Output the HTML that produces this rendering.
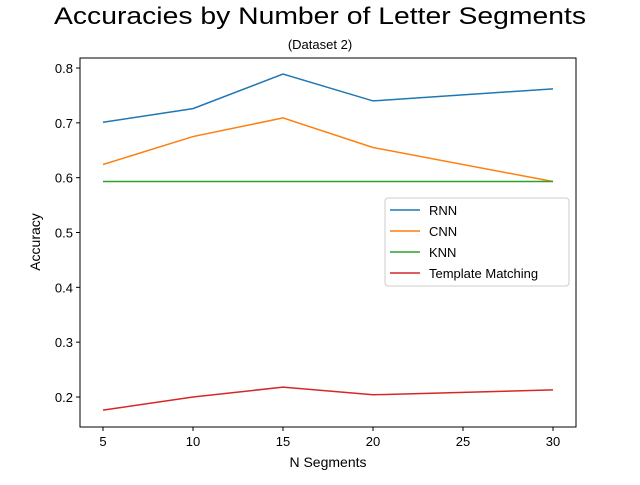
<!DOCTYPE html>
<html><head><meta charset="utf-8"><style>
body{margin:0;background:#fff;}
svg text{font-family:"Liberation Sans","DejaVu Sans",sans-serif;fill:#000;}
</style></head><body>
<svg width="640" height="480" xmlns="http://www.w3.org/2000/svg">
<rect width="640" height="480" fill="#fff"/>
<text x="320" y="24" font-size="24" text-anchor="middle" textLength="532" lengthAdjust="spacingAndGlyphs">Accuracies by Number of Letter Segments</text>
<text x="320" y="49" font-size="13" text-anchor="middle">(Dataset 2)</text>
<g id="plot"></g>
<rect x="80" y="58" width="496" height="369" fill="none" stroke="#000" stroke-width="1"/>
<text x="328" y="467" font-size="14" text-anchor="middle">N Segments</text>
<text transform="translate(40,242) rotate(-90)" font-size="14" text-anchor="middle">Accuracy</text>
<g>
<rect x="385" y="198" width="184" height="88" rx="3" fill="#fff" stroke="#ccc"/>
<g id="legend"></g>
</g>
</svg>
<script>
const xs=[5,10,15,20,30];
const rnn=[0.701,0.726,0.789,0.740,0.762];
const cnn=[0.624,0.675,0.709,0.655,0.593];
const knn=[0.593,0.593,0.593,0.593,0.593];
const tm=[0.176,0.200,0.218,0.204,0.213];
const seriesNames=["RNN","CNN","KNN","Template Matching"];
const xTicks=[5,10,15,20,25,30];
const yTicks=[0.2,0.3,0.4,0.5,0.6,0.7,0.8];
const colors=["#1f77b4","#ff7f0e","#2ca02c","#d62728"];
const NS="http://www.w3.org/2000/svg";
const X=v=>103+(v-5)*18;
const Y=v=>397-(v-0.2)*548.3;
const plot=document.getElementById('plot');
function mk(t,a){const e=document.createElementNS(NS,t);for(const k in a)e.setAttribute(k,a[k]);return e;}
xTicks.forEach(t=>{
 const l=mk('line',{x1:X(t),x2:X(t),y1:427,y2:431,stroke:'#000'});
 
 
 plot.appendChild(l);
 const tx=mk('text',{x:X(t),y:446,'font-size':13,'text-anchor':'middle'});tx.textContent=t;
 
 
 plot.appendChild(tx);
});
yTicks.forEach(t=>{
 const l=mk('line',{x1:76,x2:80,y1:Y(t),y2:Y(t),stroke:'#000'});
 
 
 plot.appendChild(l);
 const tx=mk('text',{x:73,y:Y(t)+5,'font-size':13,'text-anchor':'end'});tx.textContent=t.toFixed(1);
 
 
 plot.appendChild(tx);
});
[rnn,cnn,knn,tm].forEach((s,i)=>{
 const p=mk('polyline',{points:s.map((v,j)=>X(xs[j])+','+Y(v)).join(' '),fill:'none',stroke:colors[i],'stroke-width':1.5});
 
 
 plot.appendChild(p);
});
const lg=document.getElementById('legend');
seriesNames.forEach((n,i)=>{
 const y=210+i*21;
 const l=mk('line',{x1:390,x2:420,y1:y,y2:y,stroke:colors[i],'stroke-width':1.5});
 
 
 lg.appendChild(l);
 const t=mk('text',{x:429,y:y+5,'font-size':13});t.textContent=n;
 
 
 lg.appendChild(t);
});
</script>
</body></html>
